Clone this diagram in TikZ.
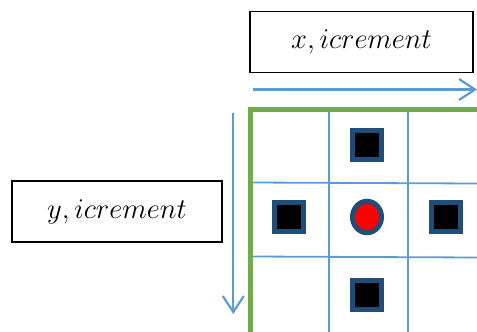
\documentclass[tikz,border=0pt]{standalone}
\usepackage{graphicx}
\usetikzlibrary{arrows.meta,shapes.geometric}
\definecolor{gridblue}{HTML}{5B9BD5}
\definecolor{edgeblue}{HTML}{1F4E79}
\definecolor{framegreen}{HTML}{70AD47}
\newcommand{\biglabel}[1]{\scalebox{1.15}{$#1$}}
\begin{document}
\begin{tikzpicture}[x=1pt,y=-1pt,
  labelbox/.style={draw=black,line width=1.3pt,minimum width=#1,minimum height=61pt,inner sep=0pt,font=\Huge},
  gridline/.style={gridblue,line width=1.8pt},
  axisarrow/.style={gridblue,line width=2.2pt,-{Straight Barb[length=16pt,width=21pt]}},
  marker/.style={draw=edgeblue,line width=5pt,fill=black,minimum size=29pt,inner sep=0pt},
  centre/.style={ellipse,draw=edgeblue,line width=5pt,fill=red,minimum width=29pt,minimum height=31.5pt,inner sep=0pt}]
\useasboundingbox (0,0) rectangle (477,332);
% labels
\node[labelbox=223pt] (xl) at (361.5,42) {\biglabel{x, icrement}};
\node[labelbox=210pt] (yl) at (117,211.5) {\biglabel{y, icrement}};
% axis arrows
\coordinate (xs) at (253,89.5);
\coordinate (xe) at (477,89.5);
\coordinate (ys) at (233.3,113);
\coordinate (ye) at (233.3,314);
\draw[axisarrow] (xs) -- (xe);
\draw[axisarrow] (ys) -- (ye);
% grid
\draw[gridline] (329,110) -- (329,332);
\draw[gridline] (408,110) -- (408,332);
\draw[gridline] (251,182.5) -- (477,183.5);
\draw[gridline] (251,256.5) -- (477,257.5);
% green frame
\draw[framegreen,line width=4.6pt] (250.5,332) -- (250.5,109.5) -- (477,109.5);
% markers
\node[marker] (n) at (367,144.5) {};
\node[marker] (w) at (288.5,217) {};
\node[marker] (e) at (445.5,217) {};
\node[marker] (s) at (367,294.5) {};
\node[centre] (c) at (367,217) {};
\end{tikzpicture}
\end{document}
